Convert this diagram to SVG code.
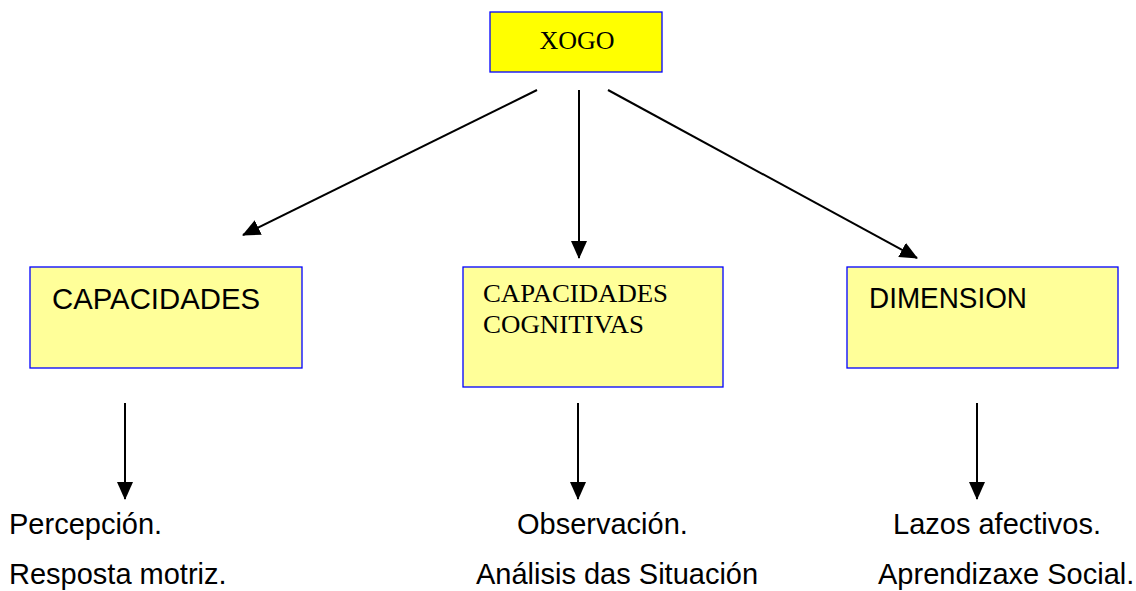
<svg xmlns="http://www.w3.org/2000/svg" width="1136" height="591" viewBox="0 0 1136 591">
  <style>
    .box { stroke: #0000ff; stroke-width: 1.3; }
    .top { fill: #ffff00; }
    .sub { fill: #ffff99; }
    .serif { font-family: "Liberation Serif", "Times New Roman", serif; fill: #000; }
    .geo { font-family: "Liberation Sans", Arial, sans-serif; fill: #000; }
    .lbl { font-family: "Liberation Sans", Arial, sans-serif; font-size: 29px; fill: #000; }
    .conn { stroke: #000; stroke-width: 2; fill: none; marker-end: url(#ah); }
  </style>
  <defs>
    <marker id="ah" markerUnits="userSpaceOnUse" markerWidth="18" markerHeight="16" refX="17" refY="8" orient="auto">
      <path d="M0,0 L18,8 L0,16 Z" fill="#000"/>
    </marker>
  </defs>
  <rect width="1136" height="591" fill="#fff"/>

  <g id="xogo">
    <rect class="box top" x="490" y="12" width="172" height="60"/>
    <text class="serif" x="577" y="49" font-size="26" text-anchor="middle">XOGO</text>
  </g>

  <g id="capacidades">
    <rect class="box sub" x="30" y="267" width="272" height="101"/>
    <text class="geo" x="52" y="309" font-size="29" textLength="208" lengthAdjust="spacingAndGlyphs">CAPACIDADES</text>
  </g>

  <g id="capacidades-cognitivas">
    <rect class="box sub" x="463" y="267" width="260" height="120"/>
    <text class="serif" x="483" y="302" font-size="26" textLength="185" lengthAdjust="spacingAndGlyphs">CAPACIDADES</text>
    <text class="serif" x="483" y="333" font-size="26" textLength="161" lengthAdjust="spacingAndGlyphs">COGNITIVAS</text>
  </g>

  <g id="dimension">
    <rect class="box sub" x="847" y="267" width="271" height="101"/>
    <text class="geo" x="869" y="308" font-size="29" textLength="158" lengthAdjust="spacingAndGlyphs">DIMENSION</text>
  </g>

  <g id="connectors">
    <line class="conn" x1="537" y1="90" x2="243" y2="235"/>
    <line class="conn" x1="579" y1="90" x2="579" y2="258"/>
    <line class="conn" x1="608" y1="90" x2="917" y2="258"/>
    <line class="conn" x1="125" y1="403" x2="125" y2="499"/>
    <line class="conn" x1="578" y1="403" x2="578" y2="499"/>
    <line class="conn" x1="977" y1="403" x2="977" y2="499"/>
  </g>

  <g id="labels-left">
    <text class="lbl" x="9" y="534">Percepción.</text>
    <text class="lbl" x="9" y="584">Resposta motriz.</text>
  </g>
  <g id="labels-middle">
    <text class="lbl" x="517" y="534">Observación.</text>
    <text class="lbl" x="476" y="584">Análisis das Situación</text>
  </g>
  <g id="labels-right">
    <text class="lbl" x="893" y="534">Lazos afectivos.</text>
    <text class="lbl" x="878" y="584">Aprendizaxe Social.</text>
  </g>
</svg>
